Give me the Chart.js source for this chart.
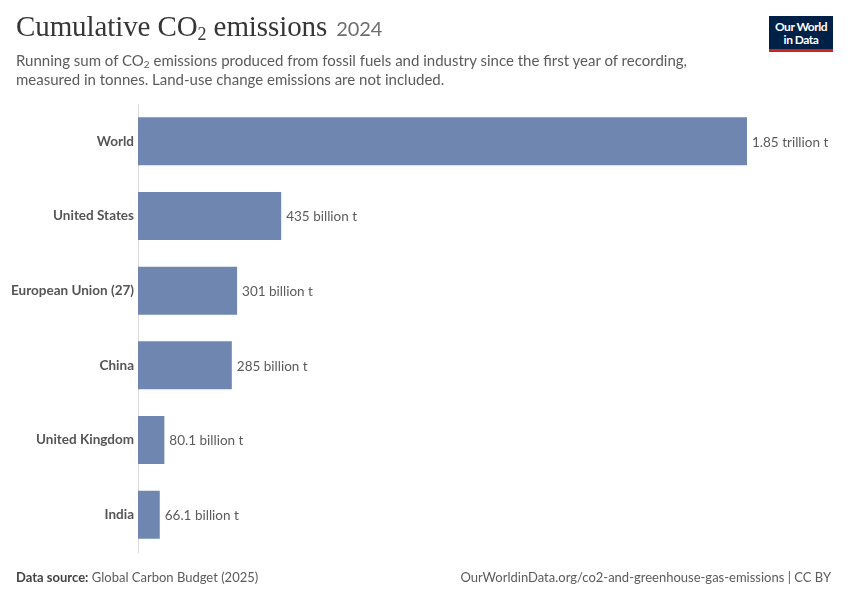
<!DOCTYPE html>
<html>
<head>
<meta charset="utf-8">
<script src="https://cdn.jsdelivr.net/npm/chart.js@4"></script>
<style>
  html, body { margin: 0; padding: 0; background: #fff; }
  body { width: 850px; height: 600px; position: relative; overflow: hidden; font-family: Lato, "Noto Sans", sans-serif; }
  #title { position: absolute; left: 16px; top: 10px; font-family: "Liberation Serif", "DejaVu Serif", serif; font-size: 29px; color: #363636; letter-spacing: -0.1px; }
  #title sub { font-size: 18px; vertical-align: -4px; line-height: 0; }
  #title .yr { font-family: Lato, sans-serif; font-size: 20px; color: #6e6e6e; margin-left: 2px; }
  #sub { position: absolute; left: 16px; top: 51px; width: 720px; font-size: 15px; line-height: 19px; color: #5b5b5b; }
  #sub sub { font-size: 10px; vertical-align: -2px; line-height: 0; }
  #logo { position: absolute; left: 769px; top: 16px; width: 64px; background: #002147; border-bottom: 3px solid #ce261e; color: #fff; font-size: 12px; font-weight: 700; line-height: 13px; text-align: center; padding-top: 4px; height: 29px; letter-spacing: -0.5px; }
  #foot { position: absolute; left: 16px; right: 19px; top: 569px; font-size: 13px; color: #5b5b5b; }
  #foot b { color: #444; font-weight: 700; }
  #foot .r { position: absolute; right: 0; top: 0; }
  #wrap { position: absolute; left: 0; top: 0; width: 850px; height: 600px; }
</style>
</head>
<body>
<div id="wrap"><canvas id="c" width="850" height="600"></canvas></div>
<div id="title">Cumulative CO<sub>2</sub> emissions <span class="yr">2024</span></div>
<div id="sub">Running sum of CO<sub>2</sub> emissions produced from fossil fuels and industry since the first year of recording, measured in tonnes. Land-use change emissions are not included.</div>
<div id="logo">Our World<br>in Data</div>
<div id="foot"><b>Data source:</b> Global Carbon Budget (2025)<span class="r">OurWorldinData.org/co2-and-greenhouse-gas-emissions | CC BY</span></div>
<script>
var countries = ["World", "United States", "European Union (27)", "China", "United Kingdom", "India"];
// billion tonnes
var emissions = [1850, 435, 301, 285, 80.1, 66.1];
var valueLabels = ["1.85 trillion t", "435 billion t", "301 billion t", "285 billion t", "80.1 billion t", "66.1 billion t"];

var BAR_COLOR = "#6f87b0";

var valueLabelPlugin = {
  id: "valueLabels",
  afterDatasetsDraw: function(chart) {
    var ctx = chart.ctx;
    var meta = chart.getDatasetMeta(0);
    ctx.save();
    ctx.font = "13.5px Lato, sans-serif";
    ctx.fillStyle = "#5b5b5b";
    ctx.textBaseline = "middle";
    ctx.textAlign = "left";
    meta.data.forEach(function(bar, i) {
      ctx.fillText(valueLabels[i], bar.x + 5, bar.y + 1);
    });
    ctx.restore();
  }
};

new Chart(document.getElementById("c").getContext("2d"), {
  type: "bar",
  data: {
    labels: countries,
    datasets: [{
      data: emissions,
      backgroundColor: BAR_COLOR,
      borderWidth: 0,
      barPercentage: 0.9,
      categoryPercentage: 0.715
    }]
  },
  plugins: [valueLabelPlugin],
  options: {
    indexAxis: "y",
    responsive: false,
    animation: false,
    layout: { padding: { top: 104, bottom: 48, left: 0, right: 103 } },
    plugins: { legend: { display: false }, tooltip: { enabled: false } },
    scales: {
      x: {
        min: 0,
        max: 1850,
        display: false
      },
      y: {
        afterFit: function(scale) { scale.width = 138; },
        grid: { display: false, drawTicks: false },
        border: { display: true, color: "#dcdcdc", width: 1 },
        ticks: {
          padding: 4,
          color: "#555",
          font: { family: "Lato, sans-serif", size: 13.5, weight: "bold" }
        }
      }
    }
  }
});
</script>
</body>
</html>
